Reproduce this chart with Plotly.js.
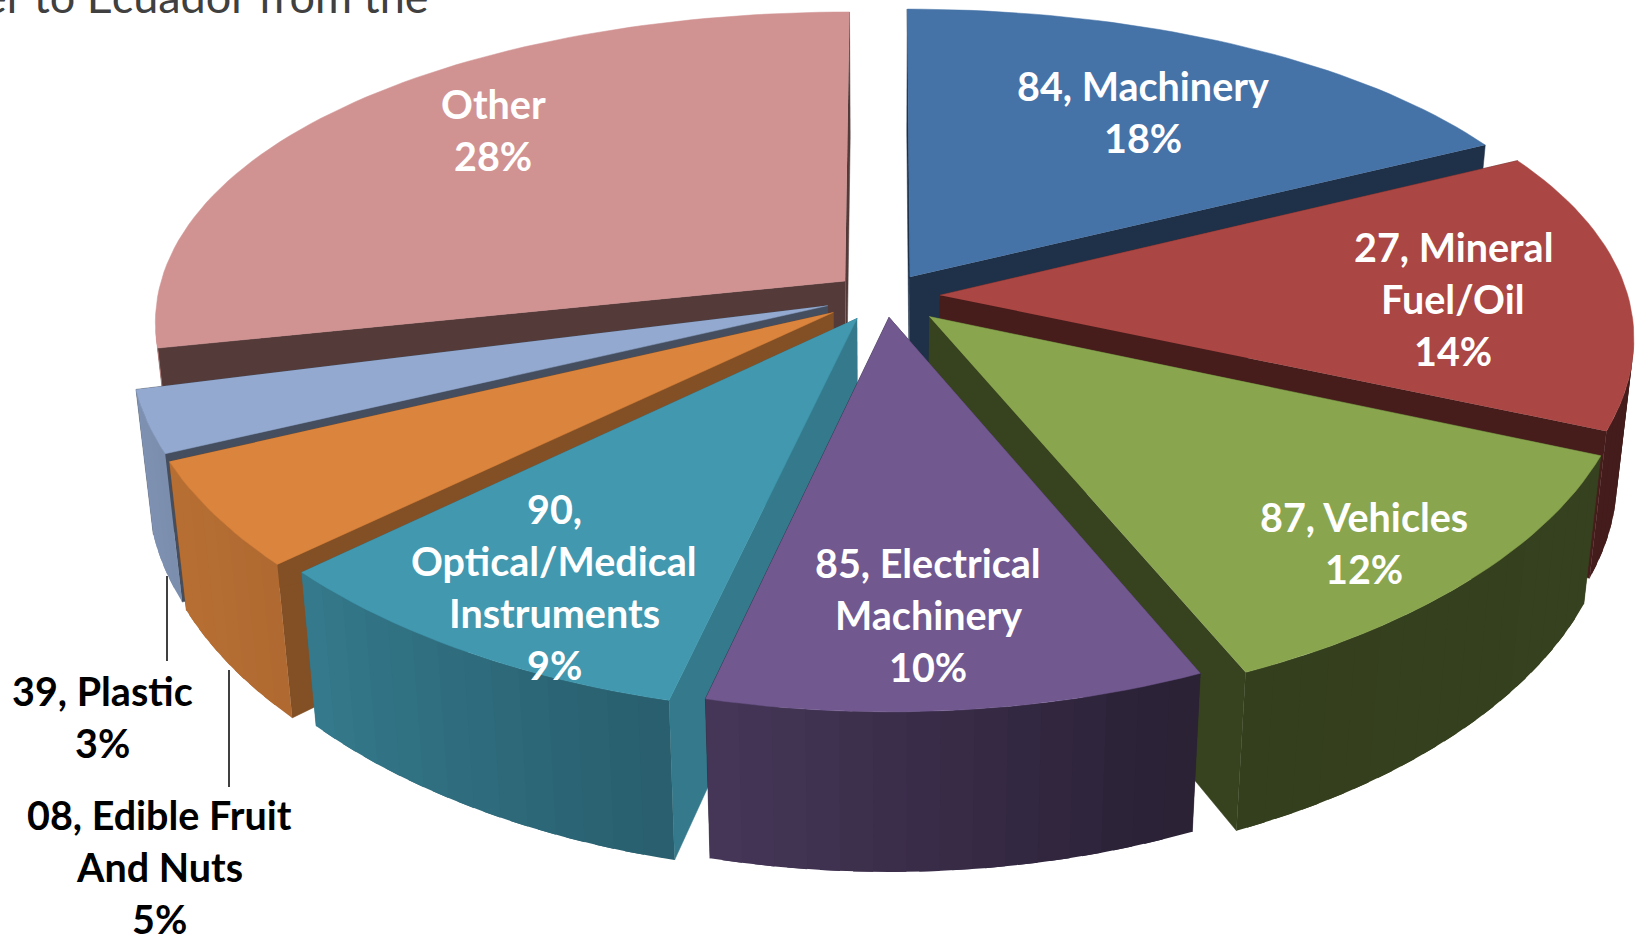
<!DOCTYPE html>
<html><head><meta charset="utf-8">
<script src="https://cdn.plot.ly/plotly-3.0.1.min.js"></script>
<style>html,body{margin:0;padding:0;background:#fff;overflow:hidden}#c{width:1641px;height:935px}text{font-variant-ligatures:none}</style>
</head><body><div id="c"></div>
<script>
// ---- data (clockwise from 12 o'clock); shares ----
const categories = ["84, Machinery","27, Mineral Fuel/Oil","87, Vehicles","85, Electrical Machinery","90, Optical/Medical Instruments","08, Edible Fruit And Nuts","39, Plastic","Other"];
const shares = [17.5,14,12,10.25,9.25,5,3,28.3];
const percentLabels = ["18%","14%","12%","10%","9%","5%","3%","28%"];
const labelLines = [["84, Machinery"],["27, Mineral","Fuel/Oil"],["87, Vehicles"],["85, Electrical","Machinery"],["90,","Optical/Medical","Instruments"],["08, Edible Fruit","And Nuts"],["39, Plastic"],["Other"]];
// ---- style ----
const gapBefore = [0,0,0,0,0,0,0,0.7];
const topColors = ["#4572A7","#AA4643","#89A54E","#71588F","#4198AF","#DB843D","#93A9CF","#D19392"];
const cutShade = [0.43,0.42,0.40,0.40,0.80,0.60,0.46,0.40];
const explode = [0.07,0.08,0.09,0.066,0.08,0.09,0.088,0.075];
const labelCentres = [[1143,112],[1453,299],[1364,543],[928,615],[554,587],[159,867],[102,717],[493,130]];
const labelColors = ["#fff","#fff","#fff","#fff","#fff","#000","#000","#fff"];
const rimShadeStops = [[100,0.40],[160,0.38],[195,0.63],[226,0.80],[260,0.87]];
// ---- projection ----
const CX=885, CY=296, F=688, SINE=0.4644, COSE=0.8856, CAMY=5.21, CAMX=7.2, SINEX=0.7, H=0.235, LINE=52, FONT=39.5;
function proj(x,y,z){
  const dy=CAMY-(y*COSE+z*SINE), dx=CAMX-(y*COSE+z*SINEX);
  const sy=F*CAMY/dy, sx=F*CAMX/dx;
  return [CX+x*sx, CY-sy*(-y*SINE+z*COSE)];
}
function shade(hex,f){
  const n=parseInt(hex.slice(1),16);
  return `rgb(${Math.round((n>>16)*f)},${Math.round(((n>>8)&255)*f)},${Math.round((n&255)*f)})`;
}
function rimShade(deg){
  const s=rimShadeStops;
  if(deg<=s[0][0])return s[0][1];
  for(let i=1;i<s.length;i++) if(deg<=s[i][0]){
    const t=(deg-s[i-1][0])/(s[i][0]-s[i-1][0]);
    return s[i-1][1]+t*(s[i][1]-s[i-1][1]);
  }
  return s[s.length-1][1];
}
const total=shares.reduce((a,b)=>a+b,0)+gapBefore.reduce((a,b)=>a+b,0);
let acc=0;
const slices=shares.map((v,i)=>{
  acc+=gapBefore[i];
  const a0=acc/total*360; acc+=v; const a1=acc/total*360;
  return {i,a0,a1,mid:(a0+a1)/2};
});
const rad=d=>d*Math.PI/180;
const traces=[];
function poly(pts,color,w){
  traces.push({type:"scatter",mode:"lines",x:pts.map(p=>p[0]),y:pts.map(p=>p[1]),fill:"toself",fillcolor:color,
    line:{color:color,width:w},hoverinfo:"skip",showlegend:false});
}
slices.slice().sort((p,q)=>Math.cos(rad(q.mid))-Math.cos(rad(p.mid))).forEach(s=>{
  const c=topColors[s.i], e=explode[s.i];
  const ox=Math.sin(rad(s.mid))*e, oy=-Math.cos(rad(s.mid))*e;
  const P=(deg,r,z)=>proj(ox+Math.sin(rad(deg))*r, oy-Math.cos(rad(deg))*r, z);
  // cut faces
  const cut=shade(c,cutShade[s.i]);
  [s.a0,s.a1].forEach(a=>poly([P(a,0,0),P(a,1,0),P(a,1,-H),P(a,0,-H)],cut,0.5));
  // outer rim, front-facing part only; each strip overlaps the next so no seams show
  const lo=Math.max(s.a0,98), hi=Math.min(s.a1,262);
  if(hi>lo){
    const n=Math.ceil((hi-lo)/2.5);
    for(let k=0;k<n;k++){
      const a=lo+(hi-lo)*k/n, b=lo+(hi-lo)*(k+1)/n, pts=[];
      const b2=Math.min(hi,b+1.5);
      for(let j=0;j<=3;j++) pts.push(P(a+(b2-a)*j/3,1,0));
      for(let j=3;j>=0;j--) pts.push(P(a+(b2-a)*j/3,1,-H));
      poly(pts,shade(c,rimShade((a+b)/2)),0);
    }
  }
  // top face
  const top=[P(s.a0,0,0)];
  const n=Math.ceil((s.a1-s.a0)/1.5);
  for(let k=0;k<=n;k++) top.push(P(s.a0+(s.a1-s.a0)*k/n,1,0));
  poly(top,c,0.5);
});
// leader lines
const leaderX=[[167,167],[229,229]], leaderY=[[576,661],[670,787]];
leaderX.forEach((lx,i)=>traces.push({type:"scatter",mode:"lines",x:lx,y:leaderY[i],line:{color:"#000",width:1.5},hoverinfo:"skip",showlegend:false}));
// labels
const annotations=[];
slices.forEach(s=>{
  const lines=labelLines[s.i].concat([percentLabels[s.i]]);
  lines.forEach((t,k)=>annotations.push({xref:"x",yref:"y",x:labelCentres[s.i][0],y:labelCentres[s.i][1]+LINE*(k-(lines.length-1)/2)-1,
    text:t,showarrow:false,xanchor:"center",yanchor:"middle",font:{family:"Lato",size:FONT,weight:700,color:labelColors[s.i]}}));
});
annotations.push({xref:"paper",yref:"paper",x:431/1641,y:1+4/935,text:"er to Ecuador from the",showarrow:false,xanchor:"right",yanchor:"middle",
  font:{family:"Lato",size:45,color:"#404040"}});
Plotly.newPlot("c",traces,{width:1641,height:935,margin:{l:0,r:0,t:0,b:0},paper_bgcolor:"#fff",plot_bgcolor:"#fff",showlegend:false,
  xaxis:{range:[0,1641],visible:false,fixedrange:true},yaxis:{range:[935,0],visible:false,fixedrange:true},annotations},{displayModeBar:false,staticPlot:true});
</script></body></html>
